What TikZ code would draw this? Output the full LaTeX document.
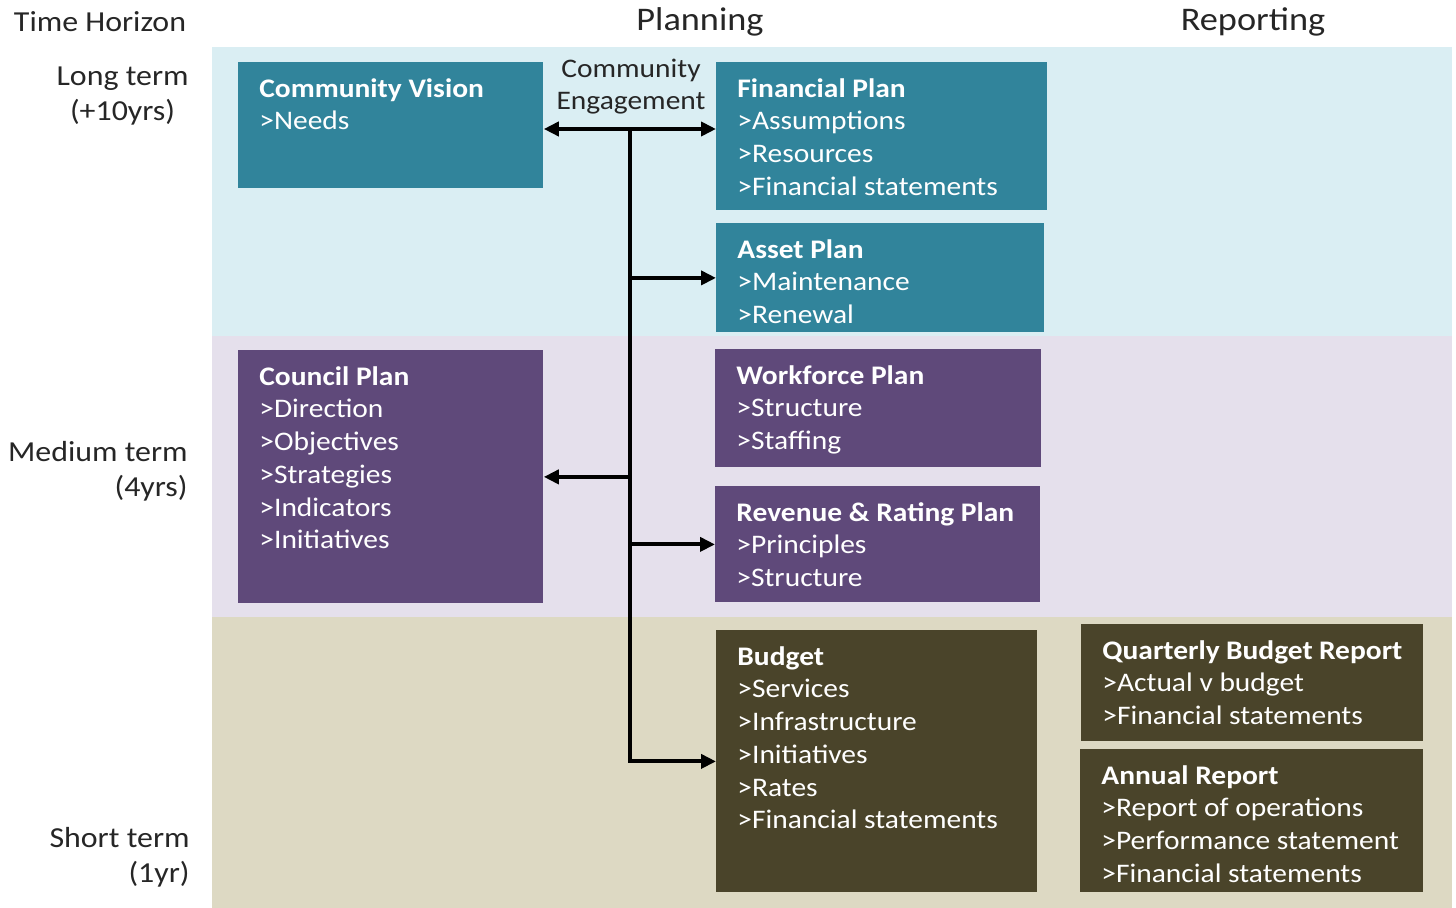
\documentclass[tikz,border=0pt]{standalone}
\usepackage{fontspec}
\setmainfont{Carlito}[FakeStretch=1.1]
\usepackage{xcolor}
\usepackage{tikz}
\usetikzlibrary{arrows.meta, positioning}

\definecolor{longband}{HTML}{DAEEF3}
\definecolor{medband}{HTML}{E5E0EC}
\definecolor{shortband}{HTML}{DDD9C3}
\definecolor{longbox}{HTML}{31849B}
\definecolor{medbox}{HTML}{5F497A}
\definecolor{shortbox}{HTML}{4A442A}
\definecolor{labeltext}{HTML}{262626}

% box content: width, height, lines
\newcommand{\boxtext}[3]{\parbox[t][#2][t]{#1}{\strut #3}}

\tikzset{
  planbox/.style={anchor=north west, fill=#1, text=white, inner xsep=10.5pt, inner ysep=6pt,
    font=\fontsize{13.4}{16.35}\selectfont},
  header/.style={text=labeltext, font=\fontsize{16.5}{19}\selectfont},
  term/.style={text=labeltext, inner sep=0pt, anchor=east, font=\fontsize{14.5}{17.5}\selectfont},
  conn/.style={line width=2pt, line join=miter, -{Triangle[length=7.5pt, width=7pt]}},
}

\begin{document}
\begin{tikzpicture}[x=0.5pt, y=-0.5pt]
				\useasboundingbox (0,0) rectangle (1456,908);
				% Bands:
				\fill[longband] (212,47) rectangle (1452,336);
				\fill[medband] (212,336) rectangle (1452,617);
				\fill[shortband] (212,617) rectangle (1452,908);
				% Headers and time horizon:
				\node[header, font=\fontsize{14.5}{17.5}\selectfont] (th) at (100,22) {Time Horizon};
				\node[header] (planning) at (700,22) {Planning};
				\node[header] (reporting) at (1253,22) {Reporting};
				\node[term, align=center] (longterm) at (189,96) {Long term\\(+10yrs)};
				\node[term, align=right] (medterm) at (188,471) {Medium term\\(4yrs)};
				\node[term, align=right] (shortterm) at (190,857) {Short term\\(1yr)};
				% Planning boxes:
				\node[planbox=longbox] (vision) at (238,62) {\boxtext{131.5pt}{51pt}{\textbf{Community Vision}\\>Needs}};
				\node[planbox=longbox] (fin) at (716,62) {\boxtext{144.5pt}{62pt}{\textbf{Financial Plan}\\>Assumptions\\>Resources\\>Financial statements}};
				\node[planbox=longbox] (asset) at (716,223) {\boxtext{143pt}{42.5pt}{\textbf{Asset Plan}\\>Maintenance\\>Renewal}};
				\node[planbox=medbox] (council) at (238,350) {\boxtext{131.5pt}{114.5pt}{\textbf{Council Plan}\\>Direction\\>Objectives\\>Strategies\\>Indicators\\>Initiatives}};
				\node[planbox=medbox] (work) at (715,349) {\boxtext{142pt}{47pt}{\textbf{Workforce Plan}\\>Structure\\>Staffing}};
				\node[planbox=medbox] (rev) at (715,486) {\boxtext{141.5pt}{46pt}{\textbf{Revenue \& Rating Plan}\\>Principles\\>Structure}};
				\node[planbox=shortbox] (budget) at (716,630) {\boxtext{139.5pt}{119pt}{\textbf{Budget}\\>Services\\>Infrastructure\\>Initiatives\\>Rates\\>Financial statements}};
				% Reporting boxes:
				\node[planbox=shortbox] (qbr) at (1081,624) {\boxtext{150pt}{46.5pt}{\textbf{Quarterly Budget Report}\\>Actual v budget\\>Financial statements}};
				\node[planbox=shortbox] (annual) at (1080,749) {\boxtext{150.5pt}{59.5pt}{\textbf{Annual Report}\\>Report of operations\\>Performance statement\\>Financial statements}};
				% Community engagement and connectors:
				\node[text=labeltext, align=center, font=\fontsize{13.4}{16.35}\selectfont] (engage) at (631,86.5) {Community\\Engagement};
				\coordinate (ce) at (630,129);
				\draw[conn, {Triangle[length=7.5pt, width=7pt]}-{Triangle[length=7.5pt, width=7pt]}] (vision.east |- ce) -- (fin.west |- ce);
				\draw[conn] (ce) |- (budget.west);
				\draw[conn] (ce |- asset.west) -- (asset.west);
				\draw[conn] (ce |- council.east) -- (council.east);
				\draw[conn] (ce |- rev.west) -- (rev.west);
			\end{tikzpicture}
\end{document}
